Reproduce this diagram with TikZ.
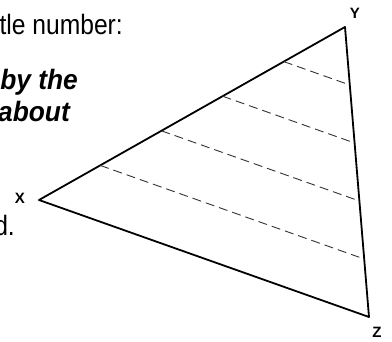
\documentclass[tikz,border=0pt]{standalone}
\usepackage{fontspec}
\setmainfont{Liberation Sans}
\usetikzlibrary{calc}
\newcommand{\narrowtxt}[2]{\scalebox{#1}[1]{#2}}
\begin{document}
\begin{tikzpicture}[x=1pt,y=-1pt,
  side/.style={line width=1.8pt,line join=round},
  hatch/.style={line width=0.9pt,dash pattern=on 9pt off 5pt,black!80},
  vlabel/.style={font=\fontsize{15}{17}\selectfont\bfseries,inner sep=0pt},
  bigtext/.style={font=\fontsize{28}{30}\selectfont,inner sep=0pt,anchor=base east},
  bigbi/.style={font=\fontsize{28}{30}\selectfont\bfseries\itshape,inner sep=0pt,anchor=base east}]
\useasboundingbox (0,0) rectangle (392,342);
\clip (0,0) rectangle (392,342);
% text fragments
\node[bigtext] (t1) at (123,35) {\narrowtxt{0.88}{tle number:}};
\node[bigbi] (t2) at (78,90) {\narrowtxt{0.94}{by the}};
\node[bigbi] (t3) at (70,122) {\narrowtxt{0.94}{about}};
\node[bigtext] (t4) at (15,236) {\narrowtxt{0.88}{d.}};
% vertices
\coordinate (X) at (39,200);
\coordinate (Y) at (345,27);
\coordinate (Z) at (369,317);
\draw[side] (X) -- (Y) -- (Z) -- cycle;
% dashed lines parallel to XZ
\foreach \f [count=\i] in {0.2,0.4,0.6,0.8}{
  \coordinate (a\i) at ($(Y)!\f!(X)$);
  \coordinate (b\i) at ($(Y)!\f!(Z)$);
  \draw[hatch] (a\i) -- (b\i);
}
\node[vlabel] (lx) at (20,198) {X};
\node[vlabel] (ly) at (355,13) {Y};
\node[vlabel] (lz) at (377,332) {Z};
\end{tikzpicture}
\end{document}
